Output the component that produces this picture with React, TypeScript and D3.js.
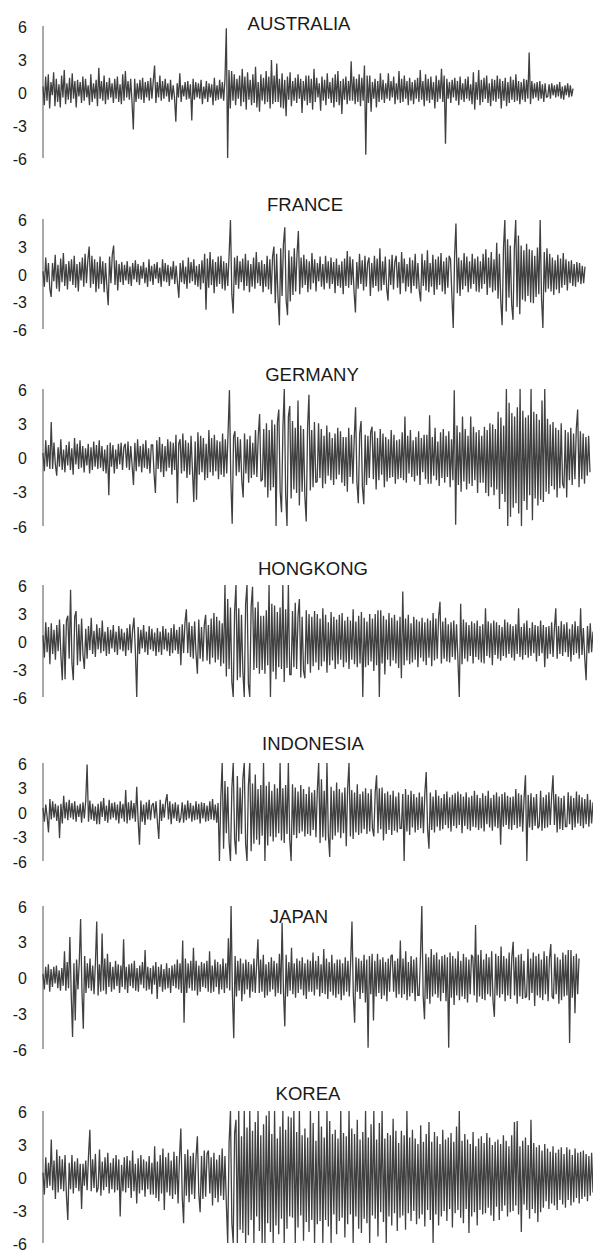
import React from "react";
import * as d3 from "d3";

const COUNTRIES = ["AUSTRALIA", "FRANCE", "GERMANY", "HONGKONG", "INDONESIA", "JAPAN", "KOREA"];
const TICKS = [6, 3, 0, -3, -6];
const Y_DOMAIN = [-6, 6];

const australia = [
  0.5,-1.2,1.4,-0.8,1.6,-1.5,0.9,-0.3,1.8,-1.3,1.2,-0.9,0.7,-1.4,1.5,-0.5,2.0,-1.1,0.8,-0.7,
  1.3,-1.0,1.7,-0.6,1.0,-1.4,1.1,-0.4,0.9,-1.0,1.4,-0.8,1.2,-0.5,0.6,-1.2,1.6,-0.9,0.8,-0.6,
  1.1,-1.3,2.2,-0.6,1.0,-0.8,1.5,-1.1,0.9,-0.7,1.3,-0.5,0.8,-1.0,1.2,-0.6,1.4,-0.9,0.7,-1.1,
  1.6,-0.8,1.9,-0.5,1.0,-0.7,1.2,-0.9,-3.4,1.2,-0.9,0.8,-0.6,1.1,-0.7,1.3,-1.0,0.9,-0.5,1.0,
  -0.8,1.3,-0.6,1.0,2.4,-1.0,0.9,-0.5,1.5,-0.8,1.0,-0.6,1.2,-0.4,0.8,-0.9,1.1,-0.7,0.6,-0.5,
  -2.7,0.8,-0.5,1.7,-0.9,0.6,-0.4,0.9,-0.7,1.0,-0.6,0.7,-2.6,1.2,-0.7,0.9,-0.5,0.8,-0.6,1.1,
  -1.1,0.5,-0.6,1.0,-0.9,0.8,-0.5,0.7,-1.2,1.3,-0.8,0.6,-0.7,1.1,-0.6,0.9,-0.8,1.2,5.8,-6.0,
  2.0,-1.5,1.9,-0.8,1.6,-1.2,1.2,-0.6,1.5,-1.3,2.1,-0.9,1.4,-1.6,1.8,-0.7,1.1,-1.2,1.6,-1.0,
  2.3,-1.4,0.9,-1.8,1.6,-0.8,1.3,-1.1,1.9,-0.9,1.4,-1.5,2.9,-1.1,1.5,-0.9,2.6,-0.9,1.2,-1.4,
  1.7,-1.5,1.1,-2.2,1.4,-0.7,1.8,-1.3,1.0,-0.8,1.3,-1.0,1.6,-0.6,1.2,-1.9,1.0,-0.8,1.5,-1.2,
  1.5,-1.0,1.2,-1.6,2.1,-0.9,1.3,-0.5,0.8,-1.7,1.4,-0.8,1.1,-1.2,1.7,-0.6,0.9,-1.0,1.3,-1.4,
  1.6,-0.9,1.9,-1.2,1.0,-2.0,1.2,-0.7,1.4,-1.1,1.0,-0.8,2.8,-0.8,1.4,-1.1,1.2,-0.9,1.6,-1.3,
  1.3,-0.8,2.4,-5.7,1.5,-1.0,1.5,-1.8,0.9,-0.6,1.2,-1.4,1.0,-0.9,1.7,-0.7,1.1,-1.0,0.8,-0.6,
  1.7,-0.8,1.0,-0.5,1.4,-1.1,0.8,-0.7,1.9,-1.0,1.2,-0.9,1.5,-0.6,1.0,-1.2,1.3,-0.8,0.9,-1.1,
  1.1,-0.6,1.3,-0.9,2.0,-0.7,1.0,-1.3,1.6,-0.8,1.2,-1.0,1.4,-0.7,0.9,-1.5,1.5,-0.9,1.1,-0.6,
  2.1,-0.9,1.5,-4.7,1.2,-0.6,0.9,-1.0,1.1,-0.5,1.3,-0.8,1.0,-1.2,1.4,-0.7,0.8,-0.9,1.2,-0.6,
  1.4,-0.8,0.7,-1.1,1.8,-1.6,0.9,-0.7,2.0,-1.2,1.1,-0.9,1.3,-0.6,1.5,-1.0,0.8,-1.3,1.2,-0.8,
  1.1,-0.9,1.5,-0.6,1.2,-1.5,1.0,-0.8,1.3,-1.3,0.9,-1.0,1.4,-0.7,1.1,-0.9,1.6,-0.8,1.0,-1.1,
  0.9,-0.7,1.2,-0.9,1.1,-0.6,3.6,-1.1,1.0,-0.6,0.8,-0.5,0.9,-0.8,1.0,-0.6,0.7,-0.9,0.8,-0.5,
  -0.4,0.7,-0.6,0.8,-0.3,0.6,-0.5,0.7,-0.4,0.9,-0.6,0.5,-0.7,0.6,-0.3,0.8,-0.5,0.6,-0.4,0.3,
];

const france = [
  0.3,-1.4,1.8,-0.9,1.2,-1.6,-2.5,1.2,-0.8,2.1,-1.6,1.0,-1.9,1.7,-0.9,2.3,-1.3,1.1,-1.7,1.4,
  -0.8,1.6,-1.2,2.0,-1.5,1.1,-1.9,1.3,-0.7,1.8,-1.4,2.2,-1.0,1.5,3.0,-1.5,2.0,-1.1,1.6,-2.0,
  1.3,-1.6,1.9,-1.1,1.4,-2.0,1.2,-1.3,-3.4,1.9,-1.0,2.1,3.1,-1.2,1.5,-1.8,1.1,-0.9,1.3,-1.2,
  1.0,-0.7,1.4,-1.1,0.8,-1.3,1.2,-0.6,1.5,-0.9,1.1,-1.2,0.9,-0.5,1.3,-1.0,0.7,-1.4,1.6,-0.8,
  0.9,-1.2,1.1,-0.5,1.3,-1.0,0.7,-1.4,1.6,-0.8,1.2,-0.9,1.0,-1.3,0.8,-0.6,1.4,-1.1,0.9,-1.0,
  -2.6,1.2,-0.9,1.5,-1.1,0.8,-1.6,1.8,-1.0,1.3,-0.8,1.6,-1.2,0.9,-1.4,1.1,-1.7,1.5,-1.0,2.2,
  -3.9,1.7,-1.5,2.4,-1.2,1.6,-2.1,1.3,-1.4,1.9,-1.1,2.0,-1.6,1.4,-1.8,1.2,-1.3,2.1,5.9,-2.2,
  -4.3,1.8,-1.2,2.0,-1.6,1.4,-0.9,1.7,-1.8,2.2,-1.3,1.5,-2.0,1.1,-1.4,1.8,-1.6,2.4,-1.0,1.3,
  -1.3,1.5,-2.0,1.1,-1.4,2.0,-1.7,1.6,-2.2,1.9,3.0,-3.2,2.2,-2.6,-5.6,2.8,-2.4,3.3,5.1,-2.9,
  -4.5,2.6,-3.0,1.9,-2.3,2.8,-1.9,2.2,4.7,-2.2,1.8,-1.5,2.1,-1.2,1.6,-2.0,1.4,-1.7,2.3,-1.0,
  1.6,-1.9,1.2,-0.8,1.9,-1.4,1.1,-1.7,2.0,-1.0,1.4,-1.6,1.8,-1.1,1.3,-2.1,1.7,-1.3,1.0,-1.5,
  1.4,-2.2,1.7,-1.3,2.5,-1.5,1.9,-1.2,1.6,-2.0,-4.2,1.3,-1.6,2.2,-1.1,1.5,-1.8,2.0,-1.4,1.2,
  1.8,-2.4,1.2,-1.5,2.0,-1.3,1.7,-1.9,2.8,-1.8,1.4,-1.2,1.9,-1.6,-2.9,1.6,-1.2,2.1,-1.7,1.3,
  2.0,-1.5,1.3,-2.2,2.4,-1.0,1.7,-1.9,1.1,-1.4,1.8,-2.1,1.5,-1.3,2.2,-1.6,1.2,-1.8,-3.0,2.2,
  -1.3,1.5,-1.8,2.6,-2.0,1.2,-1.4,2.1,-2.3,1.6,-1.7,1.9,-1.2,2.3,-1.9,1.4,-2.2,1.8,-1.5,2.0,
  1.6,-2.4,-5.9,2.0,5.5,-2.1,1.8,-2.4,1.5,-1.7,2.3,-1.3,1.9,-2.0,1.4,-1.6,2.2,-1.1,1.7,-1.9,
  1.9,-2.0,1.4,-1.6,2.2,-1.1,2.7,-2.3,1.8,-1.5,2.4,-2.0,1.6,-1.8,3.4,-2.7,2.2,-3.0,-5.6,2.9,
  5.9,-4.1,3.8,-2.6,3.1,-3.3,-5.0,2.8,5.9,-3.6,4.2,-4.4,3.1,-2.8,2.6,-3.0,3.3,-2.4,2.7,-3.1,
  2.6,-3.2,2.0,-2.5,2.9,-2.2,5.9,-2.7,-5.9,2.4,-2.0,2.8,-1.6,2.2,-1.9,1.8,-2.3,1.5,-1.7,2.1,
  -2.1,1.7,-1.5,2.3,-1.2,1.6,-1.8,1.4,-1.0,1.5,-1.3,1.1,-1.4,1.3,-0.9,1.2,-1.1,0.9,-1.0,0.8,
];

const germany = [
  0.4,-1.2,1.5,-0.8,1.1,-1.0,3.1,-1.0,1.3,-0.6,-1.6,0.9,-0.8,1.6,-1.1,0.7,-1.3,1.1,-0.7,1.4,
  -1.1,0.8,-1.5,1.7,-0.6,1.2,-1.0,1.5,-0.9,1.0,-1.3,0.8,-0.7,1.2,-1.4,0.9,-1.1,1.4,-0.8,1.1,
  -1.0,1.5,-0.9,1.0,-1.2,0.7,-1.4,1.1,-3.3,1.3,-0.8,1.1,-1.4,0.7,-1.0,1.2,-0.6,1.3,-1.1,0.9,
  1.2,-0.9,1.4,-1.1,1.0,-0.7,-2.4,1.3,-1.2,1.6,-0.8,1.0,-1.3,1.2,-0.9,1.5,-1.0,0.8,-1.4,1.1,
  1.1,-1.4,-3.1,1.5,-1.0,1.8,-1.3,1.2,-1.7,1.0,-1.2,1.6,-0.9,1.4,-1.5,1.3,-1.1,2.0,-4.0,1.2,
  1.6,-1.4,2.1,-1.2,1.5,-1.8,1.3,-1.5,1.9,-1.1,-3.9,1.4,-3.7,2.2,-1.5,1.9,-1.3,1.7,-2.0,1.2,
  -1.8,2.4,-1.3,1.7,-1.6,2.0,-1.2,1.5,-1.9,1.4,-1.5,2.1,-1.7,1.6,-1.4,2.2,5.9,-2.0,-5.8,1.8,
  2.3,-1.6,1.8,-1.3,1.6,-2.0,-3.5,2.1,-1.4,1.6,-2.2,1.9,-1.8,1.3,-1.5,2.4,-1.7,1.9,3.8,-2.1,
  -1.9,2.5,-2.6,3.0,-3.5,2.4,-2.9,3.3,-2.6,2.9,-6.0,3.1,4.2,-3.0,-4.8,2.6,6.0,-3.3,-6.0,3.6,
  4.5,-3.6,3.2,-2.8,2.6,-3.1,5.0,-4.2,2.8,-3.0,2.5,-3.4,-5.6,2.7,5.5,-2.9,2.4,-2.6,3.1,-2.2,
  -2.1,3.0,-1.8,2.5,-2.7,1.9,-2.3,2.8,-1.6,2.2,-2.0,1.7,-2.4,2.1,-1.9,2.6,-1.5,2.3,-2.2,1.8,
  -2.5,1.8,-3.0,2.6,-1.7,2.0,-2.3,1.6,4.4,-2.2,-4.0,2.1,3.2,-2.6,-4.1,2.0,-2.4,1.9,-1.8,2.2,
  2.7,-1.9,2.3,-2.8,1.7,-2.0,2.5,-1.5,2.1,-2.6,1.8,-2.1,1.6,-1.8,2.4,-1.7,2.0,-2.3,1.5,-1.9,
  1.6,-1.8,2.2,-2.0,3.6,-2.2,1.9,-1.4,2.4,-1.7,1.5,-2.1,1.8,-1.6,2.3,-2.4,1.7,-1.3,2.0,-1.9,
  2.0,-2.3,3.7,-2.3,1.8,-1.6,2.6,-2.0,1.4,-2.5,2.2,-1.8,2.5,-2.2,1.9,-1.7,2.3,-2.6,1.6,-2.0,
  5.9,-5.9,2.8,-2.4,2.2,-3.0,3.6,-2.1,2.5,-2.8,1.9,-2.3,3.6,-2.5,2.7,-2.0,2.2,-3.1,2.4,-2.2,
  1.9,-2.2,2.7,-3.1,2.4,-3.4,3.0,-2.6,2.9,-3.3,2.5,-2.8,4.0,-4.5,3.5,-3.2,2.8,-3.9,6.0,-6.0,
  4.8,-5.2,3.9,-4.4,3.6,-4.0,4.4,-4.9,6.0,-6.0,4.1,-3.8,3.5,-4.6,3.7,-3.3,6.0,-5.5,4.0,-3.6,
  3.8,-4.2,3.3,-3.7,5.0,-3.9,6.0,-3.0,3.4,-3.2,2.9,-2.5,3.1,-2.8,2.6,-3.5,2.4,-2.7,3.0,-2.3,
  -2.7,2.4,-3.5,2.2,-2.0,2.6,-2.4,2.1,-1.9,2.5,4.2,-2.6,2.3,-1.9,2.1,-2.3,1.8,-1.6,1.9,-1.3,
];

const hongkong = [
  0.6,-1.8,2.0,-1.2,1.5,-2.5,1.9,-1.4,1.2,-2.0,1.7,-1.1,2.3,-1.6,-4.2,1.8,-4.1,2.2,2.7,-1.9,
  5.5,-2.4,-4.2,2.6,3.2,-2.6,1.8,-2.2,2.4,-1.5,-3.0,1.3,-1.9,1.6,-1.0,2.5,-1.4,1.1,-1.7,1.8,
  -0.9,1.4,-1.3,2.2,-1.1,1.0,-1.6,1.5,-1.4,1.2,-0.8,1.7,-1.2,1.0,-1.5,1.6,-0.9,1.3,-1.1,0.9,
  -1.6,1.4,-1.0,1.8,-1.3,1.2,2.5,-1.1,-6.0,1.5,-1.4,1.2,-0.8,1.7,-1.2,1.0,-1.5,1.6,-0.9,1.3,
  -1.1,0.9,-1.6,1.4,-1.2,1.0,-1.5,1.6,-0.9,1.3,-1.1,0.9,-1.6,1.4,-1.3,1.8,-1.0,1.2,-1.4,1.5,
  -2.6,1.8,-1.3,2.0,3.4,-1.3,2.0,-1.7,1.6,-1.9,2.1,-1.4,-3.5,2.3,-1.9,1.5,-2.2,1.7,2.8,-2.1,
  1.7,-2.5,2.4,-1.8,3.0,-2.3,2.6,-2.0,2.2,-2.7,1.9,-2.4,6.0,-3.8,4.5,-3.0,3.6,-4.4,-6.0,3.2,
  6.0,-4.2,3.5,-3.9,2.8,-3.3,-6.0,4.0,6.0,-4.6,-6.0,3.7,5.8,-3.1,3.6,-2.9,4.2,-3.5,2.7,-3.1,
  2.7,-3.5,3.3,-2.6,6.0,-6.0,4.0,-3.3,3.8,-4.1,3.1,-2.8,3.6,-3.0,6.0,-4.4,3.4,-2.9,6.0,-3.6,
  -3.6,3.2,-2.8,4.1,-3.0,2.7,4.5,-3.9,2.6,-3.2,-4.0,3.3,-2.5,2.9,-3.4,2.6,-2.7,3.2,-2.3,2.9,
  -3.1,2.4,-2.7,3.5,-2.2,2.8,-3.4,2.0,-2.6,3.1,-2.1,2.6,-3.0,2.3,-2.5,2.8,-2.0,3.0,-2.8,2.2,
  -2.3,2.6,-3.0,2.2,-2.0,3.4,-2.5,2.1,-2.8,2.7,-2.4,3.1,-6.0,2.5,-2.8,2.1,-2.6,2.9,-2.2,2.4,
  -3.2,2.9,-2.6,3.3,-6.0,3.3,-2.4,2.7,-3.6,2.3,-2.0,3.0,-2.7,2.5,-2.1,2.8,-2.4,2.2,-2.9,2.6,
  -4.0,5.3,-2.6,2.4,-2.1,2.8,-2.5,1.9,-2.3,2.6,-2.0,2.3,-2.8,2.1,-1.8,2.5,-2.2,2.0,-2.6,2.4,
  -1.8,2.2,-2.7,3.0,-2.1,2.4,-1.9,2.6,4.2,-2.4,2.1,-1.9,2.5,-2.2,1.8,-2.3,2.0,-1.7,2.2,-2.0,
  1.8,-2.0,-6.0,4.0,-2.5,2.3,-1.9,2.0,-2.2,1.7,-1.6,2.1,-2.4,1.9,-1.7,2.2,-2.0,1.6,-2.3,1.8,
  -2.4,3.5,-1.6,2.1,-1.8,1.9,-2.6,2.2,-1.5,2.0,-1.9,1.7,-2.1,1.5,-1.6,2.3,-1.8,2.0,-1.4,1.8,
  -1.8,1.6,-2.1,1.8,-1.4,3.5,-1.7,1.5,-2.0,1.9,-1.5,2.2,-1.8,1.4,-1.6,2.0,-1.3,1.7,-2.2,1.6,
  -1.6,2.2,-1.3,1.7,-2.8,1.5,-1.9,1.6,-1.4,2.0,-1.7,1.3,3.5,-1.9,1.6,-1.4,2.1,-1.6,1.8,-1.2,
  2.0,-1.7,1.3,-2.2,1.8,-1.5,2.1,-1.3,1.6,-1.9,3.5,-1.5,1.4,-1.8,-4.2,1.6,-1.3,1.9,-1.2,1.0,
];

const indonesia = [
  0.5,-1.2,0.9,-0.6,-2.5,1.6,-0.9,1.3,-0.7,1.0,-1.1,0.8,-3.2,1.0,-1.4,2.0,-0.8,1.2,-1.0,1.5,
  -0.7,1.1,-0.9,1.3,-1.2,0.8,-0.6,1.0,-1.3,1.2,-0.8,1.4,5.8,-1.2,1.4,-0.9,1.0,-1.1,0.7,-1.5,
  1.0,-1.5,1.3,-0.6,1.7,-1.1,0.8,-1.3,1.5,-0.9,1.1,-0.7,1.2,-1.0,0.9,-1.4,1.3,-0.8,1.0,-1.2,
  2.7,-1.4,1.2,-1.0,1.4,-0.8,1.1,-1.2,3.1,-1.0,-4.0,1.4,-1.2,0.9,-1.6,1.2,-0.9,1.5,-1.0,0.8,
  1.1,-0.8,1.3,-1.2,-3.3,1.5,-1.1,1.0,-0.7,1.3,2.2,-0.9,1.3,-1.5,1.0,-0.8,1.2,-1.1,0.9,-1.3,
  -0.7,1.2,-1.3,0.9,-1.0,1.4,-0.8,1.1,-1.2,0.8,-1.0,1.3,-0.9,1.0,-1.4,1.2,-0.8,1.1,-1.2,0.8,
  -1.1,1.3,-0.9,1.6,-1.0,0.9,-1.3,1.1,-6.0,1.8,6.0,-4.5,3.8,-2.6,3.1,-3.7,-6.0,2.9,6.0,-3.3,
  -5.2,4.4,-3.6,3.0,-2.7,4.1,6.0,-3.9,-6.0,3.2,6.0,-4.8,3.5,-3.9,4.6,-3.4,2.8,-4.0,3.3,-2.9,
  6.0,-6.0,3.2,-4.1,3.7,-3.0,2.6,-3.6,3.4,-3.1,2.9,-2.6,6.0,-3.5,2.9,-3.8,3.3,-2.7,6.0,-3.4,
  -6.0,3.4,-2.8,3.0,-3.2,2.5,-2.6,3.3,-2.4,2.8,-3.0,2.2,-2.7,3.1,-2.9,2.4,-2.2,2.7,-3.1,2.6,
  6.0,-3.8,4.0,-3.1,2.6,-3.5,6.0,-2.8,-5.5,3.1,-3.4,2.6,-2.9,3.6,-2.5,2.8,-3.2,2.4,-2.6,3.0,
  -4.2,2.9,6.0,-3.0,2.7,-3.3,2.4,-2.5,3.4,-2.8,2.2,-2.6,2.5,-2.1,2.9,-2.7,2.3,-2.4,2.8,-2.0,
  -3.0,2.4,4.5,-2.6,2.9,-2.1,3.0,-3.5,2.3,-2.7,2.5,-2.2,2.1,-2.8,2.6,-2.3,1.9,-2.5,2.4,-2.0,
  -2.0,2.2,-6.0,2.8,-2.4,2.1,-2.8,2.6,-1.9,2.2,-2.5,1.8,-2.2,2.4,-2.0,1.9,-2.6,2.3,4.9,-2.1,
  -4.5,2.4,-2.2,1.9,-2.5,2.7,-1.8,2.0,-2.3,1.7,-2.1,2.2,-1.6,2.5,-2.0,1.8,-2.4,2.1,-1.7,2.3,
  -2.0,2.5,-1.6,2.2,-2.6,1.9,-1.7,2.4,-2.1,1.8,-2.3,2.0,-1.8,2.6,-1.9,2.1,-2.2,1.7,-2.0,2.3,
  -2.4,2.0,-1.5,2.6,-1.9,1.7,-2.3,2.1,-1.8,2.4,-2.0,1.9,-4.0,2.2,-1.8,2.4,-1.6,2.0,-2.1,1.8,
  -2.2,1.9,-1.6,2.8,-2.0,2.3,-1.8,2.1,-2.4,1.7,4.5,-6.0,2.1,-1.9,2.3,-2.2,1.8,-1.7,2.2,-2.0,
  -1.7,2.6,-2.3,1.8,-2.0,2.1,-1.9,2.4,-1.6,2.0,4.5,-1.6,2.2,-2.5,1.9,-2.1,1.7,-2.2,2.0,-1.8,
  -1.8,2.4,-1.5,2.0,-2.2,1.7,-1.9,2.5,-1.4,2.1,-1.7,1.8,-2.0,1.6,-1.5,2.2,-1.8,1.5,-1.4,1.2,
];

const japan = [
  0.3,-1.0,0.9,-0.6,1.1,-1.2,0.7,-0.8,0.9,-0.5,1.0,-0.9,0.6,-1.1,0.8,-0.7,2.2,-1.1,1.3,-0.9,
  3.4,-1.4,-5.0,1.2,-3.6,1.5,-1.0,1.3,4.9,-1.2,-4.3,1.8,-1.3,1.2,-0.9,1.6,-1.1,1.0,-1.4,1.2,
  4.7,-1.5,1.1,-1.2,3.7,-1.1,1.6,-1.4,2.0,-0.8,1.3,-1.2,0.9,-1.0,1.4,-0.7,1.1,-1.3,1.0,-0.8,
  3.2,-1.0,0.9,-1.3,1.1,-0.7,1.2,-0.9,1.4,-1.1,0.8,-1.2,1.0,-0.6,1.3,-0.9,2.3,-1.1,0.9,-1.0,
  0.8,-1.4,1.0,-0.6,1.3,-1.8,0.9,-0.8,1.1,-1.2,0.7,-1.0,1.2,-0.9,0.8,-1.3,1.0,-0.7,1.1,-0.9,
  1.5,-1.0,1.2,-1.3,3.1,-3.8,1.6,-1.3,1.2,-0.9,1.4,-1.1,2.5,-1.1,1.4,-1.5,1.0,-1.2,1.3,-0.8,
  1.2,-0.9,1.4,-1.2,2.2,-1.3,1.0,-1.2,1.5,-0.8,1.3,-1.4,1.1,-1.0,1.6,-1.3,1.2,-0.9,3.3,-1.1,
  6.0,-1.4,-5.1,1.8,-1.6,1.4,-1.1,1.6,-2.0,1.2,-1.4,1.5,-1.0,1.3,-1.7,1.1,-1.2,1.6,-1.3,1.0,
  3.2,-1.3,1.5,-1.2,1.9,-1.7,1.1,-1.5,1.3,-1.2,1.7,-1.0,1.4,-1.6,1.2,-1.3,2.0,-1.4,4.6,-1.2,
  -4.1,1.9,-1.6,1.3,-1.1,2.5,-1.4,1.2,-1.7,1.6,-1.3,1.4,-1.0,1.7,-1.5,1.2,-1.8,1.5,-1.2,1.4,
  -1.2,2.1,-1.5,1.4,-1.0,1.8,-1.6,1.1,-1.3,2.4,-1.4,1.6,-1.8,1.3,-1.2,1.9,-1.5,1.2,-1.7,1.5,
  -1.4,1.5,-1.9,1.2,-1.5,1.7,-1.2,1.4,-1.6,1.3,4.7,-1.5,-3.8,1.7,-1.2,1.6,-1.8,1.4,-1.3,1.9,
  -2.1,1.5,-5.9,1.8,-1.4,2.0,-3.6,1.4,-1.6,2.0,-1.3,1.5,-1.8,1.7,-1.5,1.3,-2.0,1.6,-1.2,1.8,
  1.9,-1.2,1.4,-1.7,1.6,-1.4,3.1,-1.7,1.6,-1.4,2.2,-1.9,1.3,-1.6,1.8,-1.3,1.5,-2.0,1.7,-1.5,
  -1.5,1.8,6.0,-1.6,-3.5,2.0,-1.8,1.7,-2.2,2.4,-1.6,1.9,-1.4,2.1,-1.7,1.5,-2.0,1.8,-1.3,1.9,
  -2.0,1.7,-5.9,2.1,-1.7,1.8,-2.3,1.6,-1.5,2.2,-1.9,1.4,-1.6,2.0,-1.8,1.7,-2.1,1.5,-1.4,1.9,
  1.7,-1.5,4.4,-2.1,1.9,-1.6,2.3,-1.8,1.5,-1.9,2.0,-1.4,1.7,-1.6,2.2,-2.0,-3.3,2.0,-1.5,1.8,
  -1.7,2.6,-1.4,1.8,-2.0,1.6,-1.5,2.1,-1.8,1.7,3.0,-1.5,1.7,-2.2,1.9,-1.6,2.0,-1.8,1.4,-1.7,
  -1.6,2.4,-1.9,1.6,-1.3,2.1,-2.4,1.8,-1.5,2.0,-1.7,1.5,-1.9,2.2,-1.4,1.8,-2.0,1.6,2.8,-1.6,
  -1.8,2.0,-1.4,1.7,-2.2,1.5,-1.9,2.1,-1.6,1.9,-1.5,2.3,-5.5,2.3,-1.7,1.8,-3.0,2.0,-1.4,1.6,
];

const korea = [
  0.4,-1.6,1.8,-1.0,1.3,-0.8,3.4,-1.2,1.5,-2.0,2.5,-1.4,1.9,-1.1,1.6,-1.3,2.0,-1.7,-3.9,1.3,
  -1.1,2.0,-1.5,1.4,-1.0,1.7,-1.3,1.2,-2.9,1.2,-0.8,1.5,-1.2,1.9,4.3,-1.3,1.6,-1.0,2.1,-1.4,
  -1.0,2.5,-1.7,1.4,-1.2,1.8,-0.9,2.2,-1.5,1.3,-1.1,1.7,-1.4,2.0,-1.2,1.6,-3.6,1.1,-1.3,1.8,
  -1.4,1.9,-1.0,1.5,-1.9,2.4,-1.3,1.2,-2.4,1.7,-1.5,2.0,-1.2,1.6,-1.8,1.4,-1.1,1.9,-1.6,1.3,
  -1.6,2.8,-1.9,1.4,-2.2,2.0,-1.5,2.6,-3.0,1.8,-1.4,2.2,-1.7,1.5,-2.0,2.3,-1.6,1.9,-2.4,1.7,
  4.4,-1.8,-4.2,2.1,-1.7,2.5,-2.3,1.9,-1.6,2.2,-2.0,1.8,3.7,-1.5,-3.2,1.9,-2.0,2.4,-1.8,2.1,
  2.4,-1.5,1.8,-2.6,2.2,-1.9,1.6,-2.3,2.0,-1.7,2.6,-2.1,1.9,-2.4,-6.0,3.1,6.0,-4.2,-6.0,4.0,
  5.2,-6.0,6.0,-4.8,3.7,-5.1,6.0,-6.0,4.5,-5.3,6.0,-3.9,4.2,-6.0,5.0,-3.6,6.0,-4.9,3.8,-6.0,
  4.8,-6.0,5.6,-4.2,6.0,-5.0,3.9,-6.0,6.0,-4.4,3.5,-5.2,4.6,-3.8,6.0,-6.0,4.3,-4.7,5.5,-3.6,
  5.4,-3.7,6.0,-6.0,4.1,-4.6,6.0,-3.5,3.8,-5.8,4.4,-4.1,3.6,-5.0,6.0,-3.9,4.9,-6.0,3.3,-4.3,
  6.0,-4.0,4.6,-6.0,3.6,-3.9,6.0,-4.5,5.1,-6.0,3.9,-3.4,4.3,-5.2,3.5,-4.0,6.0,-3.7,4.0,-5.5,
  3.7,-4.3,6.0,-3.4,4.4,-6.0,3.9,-3.6,5.2,-4.7,3.4,-5.1,4.1,-3.8,6.0,-4.2,3.6,-6.0,4.8,-3.5,
  6.0,-3.8,3.4,-5.4,4.9,-3.2,6.0,-4.1,3.5,-6.0,4.0,-3.6,3.8,-4.4,5.3,-3.3,4.2,-4.9,3.1,-3.7,
  4.2,-3.5,3.8,-4.8,6.0,-3.3,3.6,-4.0,4.3,-3.1,3.5,-4.3,3.0,-3.8,4.7,-3.4,3.2,-4.5,3.9,-3.0,
  5.0,-3.9,3.2,-6.0,4.1,-3.4,3.7,-4.4,3.0,-3.6,4.3,-3.1,3.4,-4.0,3.6,-2.9,4.0,-4.6,3.2,-3.3,
  4.6,-3.0,6.0,-3.7,3.3,-4.2,3.9,-2.9,3.4,-5.1,3.0,-3.6,4.1,-3.2,2.8,-4.4,3.5,-3.0,3.7,-3.4,
  3.1,-3.3,4.0,-2.8,3.6,-3.5,2.9,-4.0,3.2,-2.7,3.4,-3.9,3.0,-3.1,3.8,-2.6,3.3,-3.6,2.8,-3.2,
  3.8,-3.1,5.0,-2.6,5.1,-3.4,2.8,-5.0,3.3,-2.5,3.6,-3.0,2.9,-3.8,5.2,-2.9,3.1,-3.3,2.7,-4.1,
  2.9,-3.2,2.4,-2.8,3.0,-2.2,2.6,-2.9,2.3,-2.4,2.8,-2.6,2.2,-3.0,2.5,-2.1,2.7,-2.5,2.1,-2.8,
  2.7,-2.1,2.5,-2.6,2.0,-2.3,2.6,-1.9,2.2,-2.4,2.3,-2.0,2.4,-1.8,2.1,-2.2,1.9,-1.7,2.2,-1.4,
];

const SERIES = [australia, france, germany, hongkong, indonesia, japan, korea];

// layout (pixel positions of each panel)
const LAYOUT = [
  { top: 26, bottom: 158, x0: 43, x1: 573, tx: 299, ty: 29.5 },
  { top: 219, bottom: 329, x0: 43, x1: 585, tx: 305, ty: 210.5 },
  { top: 389, bottom: 526, x0: 43, x1: 590, tx: 312, ty: 380.5 },
  { top: 585, bottom: 697, x0: 43, x1: 593, tx: 313, ty: 574.5 },
  { top: 763, bottom: 861, x0: 43, x1: 593, tx: 313, ty: 749.5 },
  { top: 906, bottom: 1049, x0: 43, x1: 579, tx: 299, ty: 922.5 },
  { top: 1111, bottom: 1243, x0: 43, x1: 593, tx: 308, ty: 1099.5 },
];

const FONT = "'Liberation Sans', Arial, Helvetica, sans-serif";

function Panel({ name, values, lay }: { name: string; values: number[]; lay: any }) {
  const x = d3.scaleLinear().domain([0, values.length - 1]).range([lay.x0, lay.x1]);
  const y = d3.scaleLinear().domain(Y_DOMAIN).range([lay.bottom, lay.top]).clamp(true);
  const line = d3
    .line<number>()
    .x((_, i) => x(i))
    .y((d) => y(d));
  return (
    <g>
      <text x={lay.tx} y={lay.ty} textAnchor="middle" fontSize={18.5} fill="#1a1a1a" fontFamily={FONT}>
        {name}
      </text>
      <line x1={lay.x0} x2={lay.x0} y1={y(6)} y2={y(-6)} stroke="#555" strokeWidth={1} />
      {TICKS.map((t) => (
        <text
          key={t}
          x={27}
          y={y(t) + 1}
          dy="0.35em"
          textAnchor="end"
          fontSize={16}
          fill="#1a1a1a"
          fontFamily={FONT}
        >
          {t}
        </text>
      ))}
      <path d={line(values) || ""} fill="none" stroke="#404040" strokeWidth={1.3} strokeLinejoin="miter" strokeMiterlimit={2} />
    </g>
  );
}

export default function App() {
  return (
    <svg
      width={593}
      height={1251}
      viewBox="0 0 593 1251"
      style={{ position: "absolute", left: 0, top: 0, background: "#fff" }}
    >
      <rect x={0} y={0} width={593} height={1251} fill="#fff" />
      {COUNTRIES.map((c, i) => (
        <Panel key={c} name={c} values={SERIES[i]} lay={LAYOUT[i]} />
      ))}
    </svg>
  );
}
